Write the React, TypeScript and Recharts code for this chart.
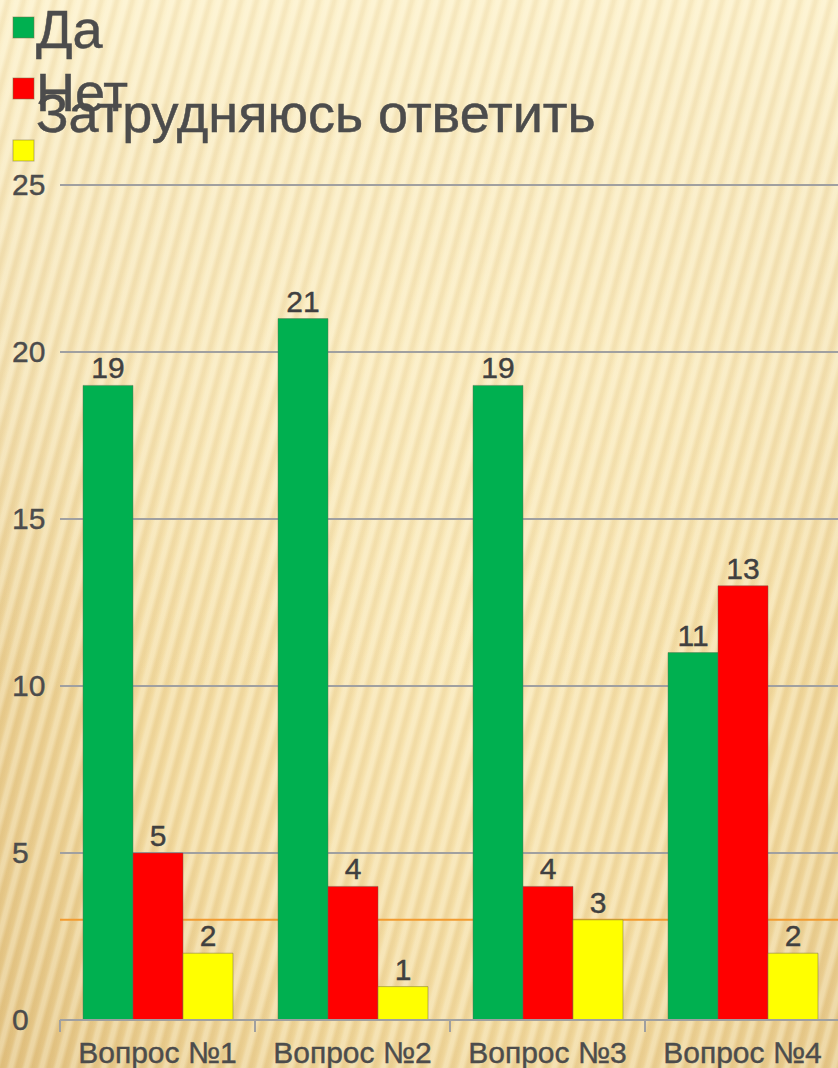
import React from 'react';
import { BarChart, Bar, XAxis, YAxis, CartesianGrid, ReferenceLine, LabelList } from 'recharts';

const categories = ['Вопрос №1', 'Вопрос №2', 'Вопрос №3', 'Вопрос №4'];
const yesValues = [19, 21, 19, 11];
const noValues = [5, 4, 4, 13];
const unsureValues = [2, 1, 3, 2];
const yTicks = [0, 5, 10, 15, 20, 25];
const seriesNames = ['Да', 'Нет', 'Затрудняюсь ответить'];
const seriesColors = ['#00B050', '#FF0000', '#FFFF00'];
const markerLine = 3;

const data = categories.map((name, i) => ({
  name,
  yes: yesValues[i],
  no: noValues[i],
  unsure: unsureValues[i],
}));

const CHART_W = 860;
const CHART_H = 1068;
const MARGIN = { top: 185, right: 20, left: 10, bottom: 0 };
const Y_WIDTH = 50;
const bandW = (CHART_W - MARGIN.left - MARGIN.right - Y_WIDTH) / categories.length;

const FONT = '"Liberation Sans", Arial, sans-serif';
const TEXT = '#4C4C4C';

const YTick = ({ y, payload }: any) => (
  <text x={12} y={y} dy={10} fontSize={30} fill={TEXT} stroke={TEXT} strokeWidth={0.4} fontFamily={FONT} textAnchor="start">
    {payload.value}
  </text>
);

const XTick = ({ x, y, payload }: any) => (
  <g>
    <line x1={x - bandW / 2} x2={x - bandW / 2} y1={y} y2={y + 12} stroke="#A0A0A0" strokeWidth={2} />
    <text x={x} y={y + 43} fontSize={30} fill={TEXT} stroke={TEXT} strokeWidth={0.4} fontFamily={FONT} textAnchor="middle">
      {payload.value}
    </text>
  </g>
);

// legend drawn the way the slide shows it: third label slipped up onto the second row
const Legend = () => {
  const squares = [17, 78, 140];
  const labelTop = [48, 111, 132];
  return (
    <svg width={838} height={180} style={{ position: 'absolute', left: 0, top: 0 }}>
      {seriesNames.map((n, i) => (
        <g key={n}>
          <rect x={13} y={squares[i]} width={21} height={21} fill={seriesColors[i]} stroke="rgba(120,110,70,0.5)" />
          <text x={36} y={labelTop[i]} fontSize={54} fill={TEXT} stroke={TEXT} strokeWidth={0.5} fontFamily={FONT}>
            {n}
          </text>
        </g>
      ))}
    </svg>
  );
};

export default function App() {
  return (
    <div
      style={{
        position: 'absolute',
        left: 0,
        top: 0,
        width: 838,
        height: 1068,
        overflow: 'hidden',
        background: [
          'repeating-linear-gradient(105deg, rgba(255,250,228,0.32) 0px, rgba(255,250,228,0.32) 3px, rgba(195,150,70,0.1) 7px, rgba(195,150,70,0.1) 9px, rgba(255,250,228,0) 12px, rgba(255,250,228,0.32) 15px)',
          'linear-gradient(to bottom, rgba(255,246,212,0.9) 0%, rgba(255,246,212,0.55) 35%, rgba(255,246,212,0) 65%)',
          'radial-gradient(ellipse 70% 60% at 55% 62%, #F9E7B6 0%, #F2DAA0 55%, #E2C282 100%)',
        ].join(','),
      }}
    >
      <BarChart
        width={CHART_W}
        height={CHART_H}
        data={data}
        margin={MARGIN}
        barGap={0}
        barCategoryGap={23}
        style={{ position: 'absolute', left: 0, top: 0 }}
      >
        <CartesianGrid vertical={false} stroke="#A0A0A0" strokeWidth={2} />
        <ReferenceLine y={markerLine} stroke="#F29B30" strokeWidth={2} zIndex={-50} />
        <XAxis
          dataKey="name"
          height={48}
          tickSize={0}
          tickMargin={0}
          tick={<XTick />}
          axisLine={{ stroke: '#A0A0A0', strokeWidth: 2 }}
          interval={0}
        />
        <YAxis
          width={Y_WIDTH}
          domain={[0, 25]}
          ticks={yTicks}
          axisLine={false}
          tickLine={false}
          tick={<YTick />}
        />
        <Bar dataKey="yes" fill={seriesColors[0]} stroke="rgba(90,110,80,0.45)" isAnimationActive={false}>
          <LabelList dataKey="yes" position="top" offset={7} fontSize={30} fill="#404040" stroke="#404040" strokeWidth={0.4} fontFamily={FONT} />
        </Bar>
        <Bar dataKey="no" fill={seriesColors[1]} stroke="rgba(110,90,80,0.45)" isAnimationActive={false}>
          <LabelList dataKey="no" position="top" offset={7} fontSize={30} fill="#404040" stroke="#404040" strokeWidth={0.4} fontFamily={FONT} />
        </Bar>
        <Bar dataKey="unsure" fill={seriesColors[2]} stroke="rgba(130,120,70,0.55)" isAnimationActive={false}>
          <LabelList dataKey="unsure" position="top" offset={7} fontSize={30} fill="#404040" stroke="#404040" strokeWidth={0.4} fontFamily={FONT} />
        </Bar>
      </BarChart>
      <Legend />
    </div>
  );
}
